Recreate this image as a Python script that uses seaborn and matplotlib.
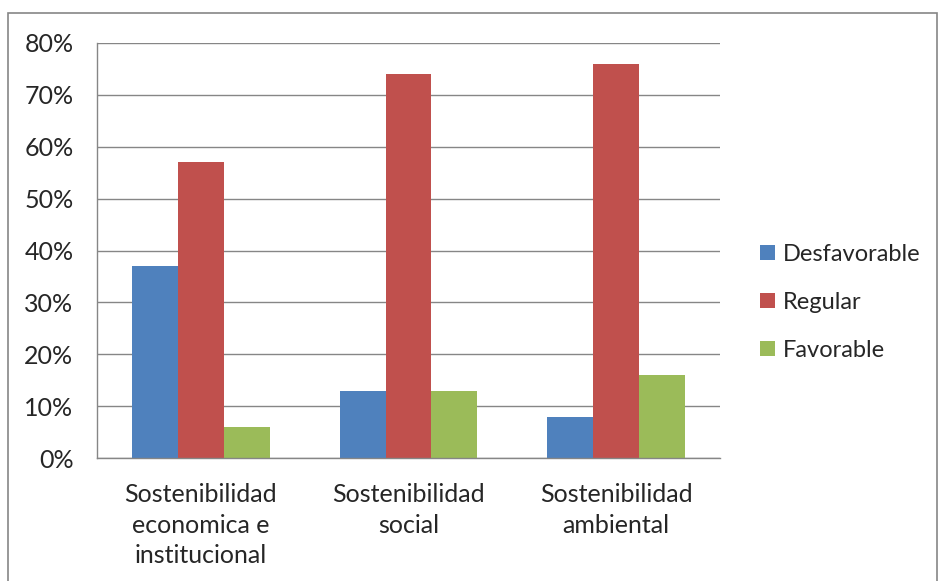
import pandas as pd
import seaborn as sns
import matplotlib.pyplot as plt
from matplotlib.patches import Rectangle
from matplotlib.ticker import PercentFormatter

# datos
categorias = ["Sostenibilidad\neconomica e\ninstitucional", "Sostenibilidad\nsocial", "Sostenibilidad\nambiental"]
desfavorable = [0.37, 0.13, 0.08]
regular = [0.57, 0.74, 0.76]
favorable = [0.06, 0.13, 0.16]
series = ["Desfavorable", "Regular", "Favorable"]
colores = ["#4F81BD", "#C0504D", "#9BBB59"]

df = pd.DataFrame({
    "categoria": categorias * 3,
    "serie": [s for s in series for _ in categorias],
    "valor": desfavorable + regular + favorable,
})

sns.set_style("white")
plt.rcParams['font.family'] = ['Lato', 'DejaVu Sans']

fig = plt.figure(figsize=(9.4, 5.81), dpi=100)
ax = fig.add_axes([97 / 940, 1 - 458 / 581, (720 - 97) / 940, (458 - 43) / 581])

sns.barplot(data=df, x="categoria", y="valor", hue="serie", hue_order=series,
            palette=colores, width=0.664, saturation=1, ax=ax, linewidth=0)

ax.set_ylim(0, 0.8)
ax.set_xlim(-0.5, 2.5)
ax.set_yticks([i / 10 for i in range(9)])
ax.yaxis.set_major_formatter(PercentFormatter(1.0, decimals=0))
ax.yaxis.grid(True, color="#868686", linewidth=1)
ax.set_axisbelow(True)
ax.set_xlabel("")
ax.set_ylabel("")

for s in ["top", "right"]:
    ax.spines[s].set_visible(False)
for s in ["left", "bottom"]:
    ax.spines[s].set_color("#868686")
    ax.spines[s].set_linewidth(1)

ax.tick_params(axis="y", length=8, color="#868686", labelsize=18, pad=9)
ax.tick_params(axis="x", which="major", length=0, labelsize=18, pad=18)
for lbl in ax.get_xticklabels():
    lbl.set_linespacing(1.4)
ax.set_xticks([-0.5, 0.5, 1.5, 2.5], minor=True)
ax.tick_params(axis="x", which="minor", length=7, color="#868686")

leg = ax.legend(loc="center left", bbox_to_anchor=(1.03, 0.375), frameon=False,
                fontsize=17, handlelength=0.62, handleheight=0.62, labelspacing=1.15,
                handletextpad=0.34)

fig.patches.append(Rectangle((8 / 940, -0.01), 929 / 940, 568 / 581 + 0.01,
                             transform=fig.transFigure, fill=False,
                             edgecolor="#868686", linewidth=1.2))

fig.savefig("out.png", dpi=100)
